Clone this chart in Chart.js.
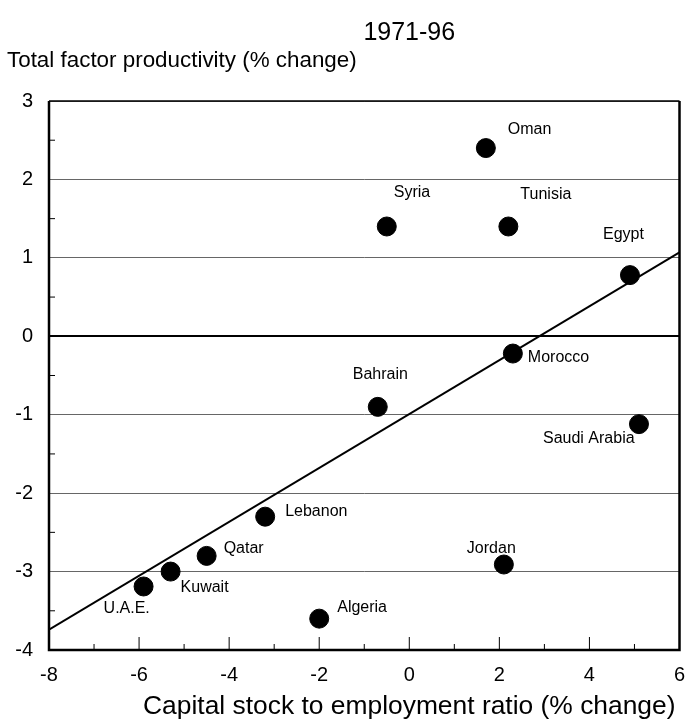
<!DOCTYPE html>
<html lang="en">
<head>
  <meta charset="UTF-8">
  <title>1971-96 TFP vs capital stock</title>
  <script src="https://cdn.jsdelivr.net/npm/chart.js"></script>
  <style>
    body { margin: 0; background: #fff; }
    #wrap { width: 690px; height: 725px; }
  </style>
</head>
<body>
  <div id="wrap"><canvas id="myChart"></canvas></div>

  <script>
    // data
    const countries = ['Oman', 'Syria', 'Tunisia', 'Egypt', 'Morocco', 'Bahrain', 'Saudi Arabia',
                       'Lebanon', 'Qatar', 'Kuwait', 'U.A.E.', 'Jordan', 'Algeria'];
    const capitalChange = [1.7, -0.5, 2.2, 4.9, 2.3, -0.7, 5.1, -3.2, -4.5, -5.3, -5.9, 2.1, -2.0];
    const tfpChange = [2.4, 1.4, 1.4, 0.78, -0.22, -0.9, -1.12, -2.3, -2.8, -3.0, -3.19, -2.91, -3.6];
    const trendX = [-8, 6];
    const trendY = [-3.74, 1.07];
    const xTicks = [-8, -6, -4, -2, 0, 2, 4, 6];
    const yTicks = [-4, -3, -2, -1, 0, 1, 2, 3];

    // label offsets from each dot (px), left-aligned text
    const labelOffsets = {
      'Oman': [22, -18], 'Syria': [7, -34], 'Tunisia': [12, -32], 'Egypt': [-27, -41],
      'Morocco': [15, 4], 'Bahrain': [-25, -32], 'Saudi Arabia': [-96, 14],
      'Lebanon': [20, -5], 'Qatar': [17, -7], 'Kuwait': [10, 16], 'U.A.E.': [-40, 22],
      'Jordan': [-37, -16], 'Algeria': [18, -11]
    };

    const FONT = '"Liberation Sans", Arial, sans-serif';

    const extras = {
      id: 'extras',
      afterDatasetsDraw(chart) {
        const ctx = chart.ctx;
        const a = chart.chartArea;
        const xs = chart.scales.x, ys = chart.scales.y;
        ctx.save();

        // frame
        ctx.strokeStyle = '#000';
        ctx.lineWidth = 1.5;
        ctx.beginPath(); ctx.moveTo(a.left, a.top); ctx.lineTo(a.right, a.top); ctx.stroke();
        ctx.lineWidth = 2.5;
        ctx.beginPath();
        ctx.moveTo(a.left, a.top); ctx.lineTo(a.left, a.bottom);
        ctx.lineTo(a.right, a.bottom); ctx.lineTo(a.right, a.top);
        ctx.stroke();

        // inner ticks
        ctx.lineWidth = 1;
        for (let v = -7; v <= 5; v++) {
          const px = xs.getPixelForValue(v);
          const len = v % 2 === 0 ? 13 : 6;
          ctx.beginPath(); ctx.moveTo(px, a.bottom); ctx.lineTo(px, a.bottom - len); ctx.stroke();
        }
        for (let v = -3.5; v < 3; v += 1) {
          const py = ys.getPixelForValue(v);
          ctx.beginPath(); ctx.moveTo(a.left, py); ctx.lineTo(a.left + 6, py); ctx.stroke();
        }

        ctx.fillStyle = '#000';
        ctx.textBaseline = 'middle';

        // x tick labels (drawn here so they add no side padding)
        ctx.textAlign = 'center';
        ctx.font = '20px ' + FONT;
        xTicks.forEach(v => ctx.fillText(String(v), xs.getPixelForValue(v), a.bottom + 25));

        // point labels
        ctx.font = '16px ' + FONT;
        ctx.textAlign = 'left';
        countries.forEach((name, i) => {
          const px = xs.getPixelForValue(capitalChange[i]);
          const py = ys.getPixelForValue(tfpChange[i]);
          const off = labelOffsets[name];
          ctx.fillText(name, px + off[0], py + off[1]);
        });

        // titles
        const cx = xs.getPixelForValue(0);
        ctx.textAlign = 'center';
        ctx.font = '25px ' + FONT;
        ctx.fillText('1971-96', cx, 33);
        ctx.font = '26.4px ' + FONT;
        ctx.fillText('Capital stock to employment ratio (% change)', cx, 707);
        ctx.textAlign = 'left';
        ctx.font = '22.4px ' + FONT;
        ctx.fillText('Total factor productivity (% change)', 7, 61);
        ctx.restore();
      }
    };

    new Chart(document.getElementById('myChart'), {
      data: {
        datasets: [
          {
            type: 'scatter',
            label: 'Countries',
            data: countries.map((c, i) => ({ x: capitalChange[i], y: tfpChange[i] })),
            backgroundColor: '#000',
            borderColor: '#000',
            pointRadius: 9.5,
            pointHoverRadius: 9.5
          },
          {
            type: 'line',
            label: 'Trend',
            data: trendX.map((x, i) => ({ x: x, y: trendY[i] })),
            borderColor: '#000',
            borderWidth: 2,
            pointRadius: 0,
            fill: false
          }
        ]
      },
      plugins: [extras],
      options: {
        responsive: true,
        maintainAspectRatio: false,
        animation: false,
        layout: { padding: { left: 0, right: 6, top: 101, bottom: 0 } },
        plugins: { legend: { display: false }, tooltip: { enabled: false } },
        scales: {
          x: {
            type: 'linear',
            min: -8, max: 6,
            afterFit: s => { s.height = 75; },
            afterBuildTicks: s => { s.ticks = xTicks.map(v => ({ value: v })); },
            grid: { display: false },
            border: { display: false },
            ticks: { display: false }
          },
          y: {
            type: 'linear',
            min: -4, max: 3,
            afterFit: s => { s.width = 49; },
            afterBuildTicks: s => { s.ticks = yTicks.map(v => ({ value: v })); },
            grid: {
              drawTicks: false,
              color: c => c.tick.value === 0 ? '#000' : '#666',
              lineWidth: c => c.tick.value === 0 ? 2 : 1
            },
            border: { display: false },
            ticks: { color: '#000', padding: 16, font: { family: FONT, size: 20 } }
          }
        }
      }
    });
  </script>
</body>
</html>
